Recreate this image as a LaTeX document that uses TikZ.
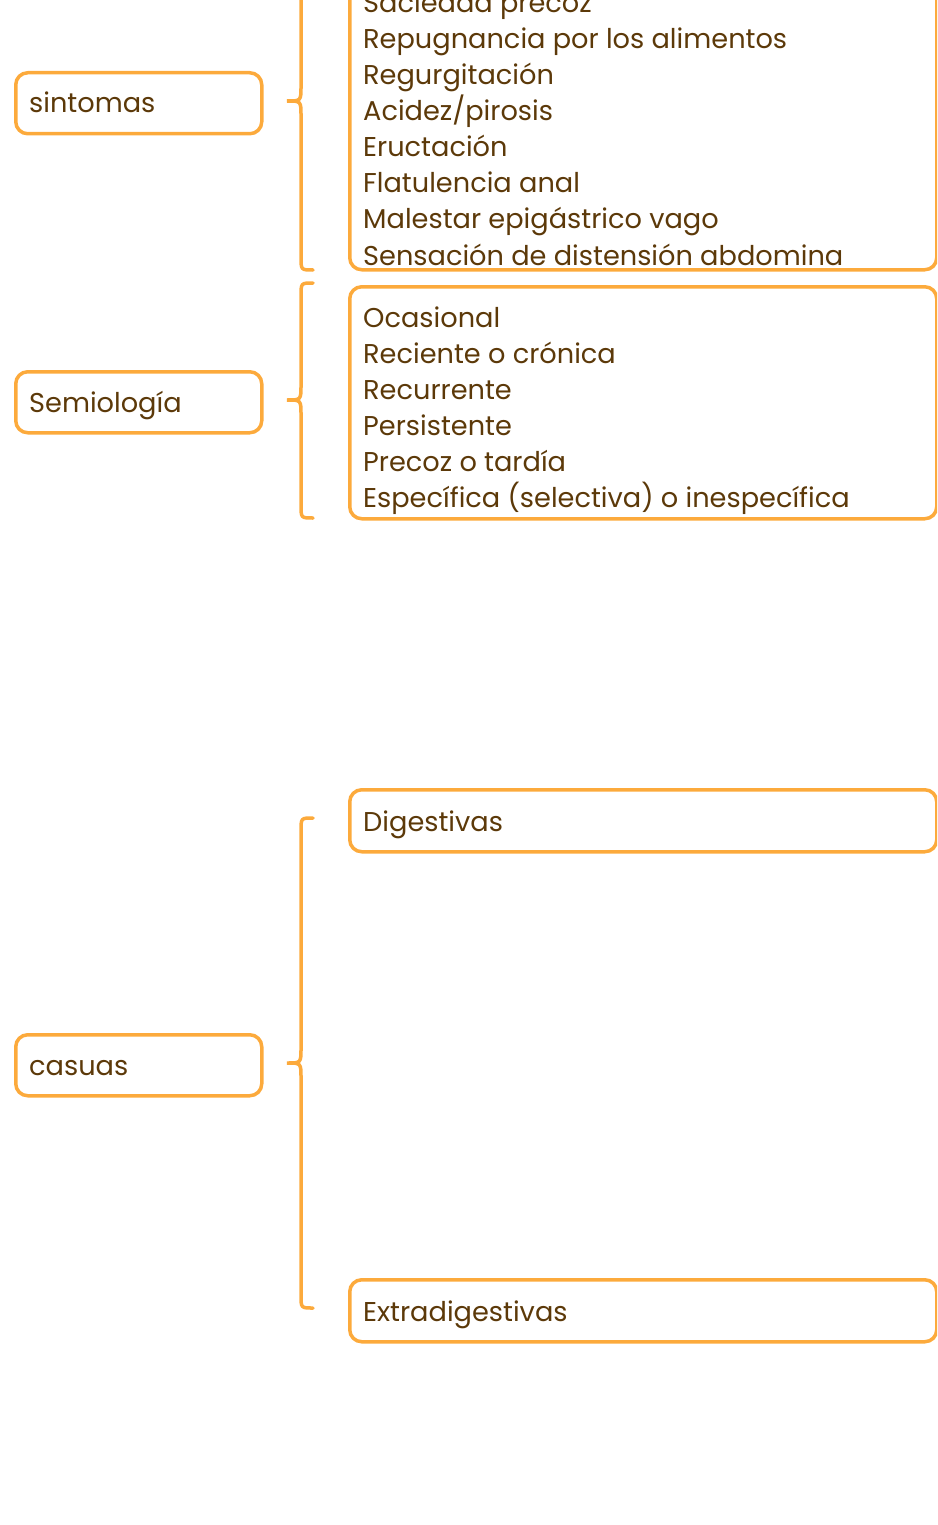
\documentclass[tikz,border=0pt]{standalone}
\usepackage{fontspec}
\setmainfont{Poppins}
\definecolor{orln}{HTML}{FCAA3C}
\definecolor{txbr}{HTML}{5C3909}
\newcommand{\bracedraw}[4]{%
  % #1 top y, #2 tip name, #3 tip y, #4 bottom y
  \coordinate (#2) at (287,#3);
  \draw[bracestyle] (313,#1) .. controls (301,#1) .. (301,#1+13) -- (301,#3-15)
    .. controls (301,#3) .. (#2) .. controls (301,#3) .. (301,#3+15)
    -- (301,#4-13) .. controls (301,#4) .. (313,#4);}
\begin{document}
\begin{tikzpicture}[x=1pt,y=-1pt,
  boxstyle/.style={draw=orln, line width=3.5pt, rounded corners=12pt, anchor=north west, inner sep=0pt},
  txt/.style={text=txbr, font=\fontsize{27.2}{36}\selectfont, anchor=base west, inner sep=0pt},
  bracestyle/.style={draw=orln, line width=3.5pt, line cap=round}]
\useasboundingbox (0,0) rectangle (937,1525);
\clip (0,0) rectangle (937,1525);
% left boxes
\node[boxstyle, minimum width=246pt, minimum height=61pt] (sint) at (14,71) {};
\node[txt] (sintt) at (29,113) {sintomas};
\node[boxstyle, minimum width=246pt, minimum height=61pt] (semi) at (14,370) {};
\node[txt] (semit) at (29,412) {Semiología};
\node[boxstyle, minimum width=246pt, minimum height=61pt] (caus) at (14,1033) {};
\node[txt] (caust) at (29,1075) {casuas};
% right boxes
\node[boxstyle, minimum width=587pt, minimum height=334pt] (lista) at (348,-66) {};
\node[boxstyle, minimum width=587pt, minimum height=232pt] (listb) at (348,285) {};
\node[boxstyle, minimum width=587pt, minimum height=62pt] (dige) at (348,788) {};
\node[boxstyle, minimum width=587pt, minimum height=62pt] (extr) at (348,1278) {};
% texts
\foreach \t [count=\i from 0] in {Saciedad precoz, Repugnancia por los alimentos, Regurgitación, Acidez/pirosis, Eructación, Flatulencia anal, Malestar epigástrico vago, Sensación de distensión abdomina}
  \node[txt] (la\i) at (363,13+36*\i) {\t};
\foreach \t [count=\i from 0] in {Ocasional, Reciente o crónica, Recurrente, Persistente, Precoz o tardía, Específica (selectiva) o inespecífica}
  \node[txt] (lb\i) at (363,327+36*\i) {\t};
\node[txt] (diget) at (363,831) {Digestivas};
\node[txt] (extrt) at (363,1321) {Extradigestivas};
% braces
\bracedraw{-68}{tipa}{101}{270}
\bracedraw{283}{tipb}{400}{518}
\bracedraw{818}{tipc}{1063}{1308}
\end{tikzpicture}
\end{document}
